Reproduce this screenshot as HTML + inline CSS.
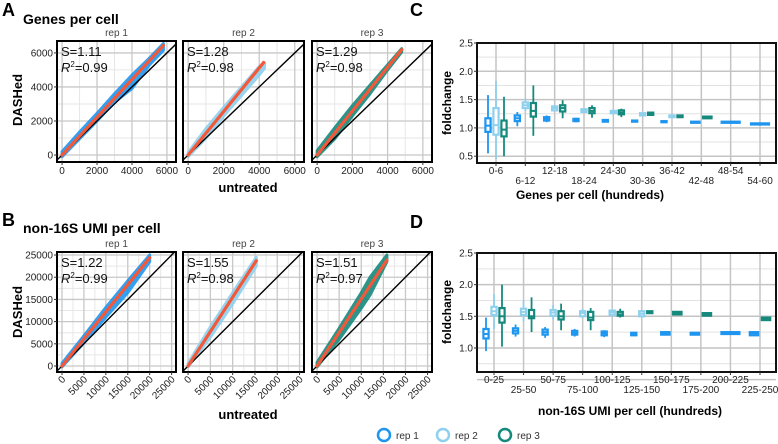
<!DOCTYPE html>
<html><head><meta charset="utf-8">
<style>
html,body{margin:0;padding:0;background:#fff;}
svg{display:block;font-family:"Liberation Sans",Arial,sans-serif;}
</style></head>
<body>
<svg id="fig" width="778" height="444" viewBox="0 0 778 444" xmlns="http://www.w3.org/2000/svg">
  <text x="2" y="16" font-size="18" font-weight="bold">A</text>
  <text x="23" y="24" font-size="14" font-weight="bold">Genes per cell</text>
  <text x="2" y="226" font-size="18" font-weight="bold">B</text>
  <text x="23" y="233" font-size="14" font-weight="bold">non-16S UMI per cell</text>
  <text x="410" y="16" font-size="18" font-weight="bold">C</text>
  <text x="410" y="228" font-size="18" font-weight="bold">D</text>
  <text transform="translate(22,100) rotate(-90)" text-anchor="middle" font-size="13" font-weight="bold">DASHed</text>
  <text transform="translate(22,312) rotate(-90)" text-anchor="middle" font-size="13" font-weight="bold">DASHed</text>
  <text x="248" y="192" text-anchor="middle" font-size="13" font-weight="bold">untreated</text>
  <text x="248" y="419" text-anchor="middle" font-size="13" font-weight="bold">untreated</text>
  <text transform="translate(451,103) rotate(-90)" text-anchor="middle" font-size="12" font-weight="bold">foldchange</text>
  <text transform="translate(451,312) rotate(-90)" text-anchor="middle" font-size="12" font-weight="bold">foldchange</text>
  <text x="590" y="199" text-anchor="middle" font-size="12" font-weight="bold">Genes per cell (hundreds)</text>
  <text x="630" y="415" text-anchor="middle" font-size="12" font-weight="bold">non-16S UMI per cell (hundreds)</text>
  <g>
    <g><circle cx="384" cy="435" r="6" fill="none" stroke="#1e96f0" stroke-width="2.5"/><text x="396" y="439" font-size="10" fill="#333">rep 1</text></g>
    <g><circle cx="443" cy="435" r="6" fill="none" stroke="#8fd0ee" stroke-width="2.5"/><text x="455" y="439" font-size="10" fill="#333">rep 2</text></g>
    <g><circle cx="505" cy="435" r="6" fill="none" stroke="#16897d" stroke-width="2.5"/><text x="517" y="439" font-size="10" fill="#333">rep 3</text></g>
  </g>
</svg>
<script>
// ---------- Scatter data (cloud bands: x, lower y, upper y) ----------
const aRepLabels = ["rep 1","rep 2","rep 3"];
const aSlopes = [1.11, 1.28, 1.29];
const aR2 = ["0.99","0.98","0.98"];
const aFitEnd = [5800, 4250, 4800];
const a1X = [0, 1000, 2000, 3000, 4000, 5000, 5800];
const a1Lo = [-100, 950, 2000, 3100, 3900, 5300, 6150];
const a1Hi = [200, 1350, 2450, 3600, 4700, 5700, 6550];
const a2X = [0, 1000, 2000, 3000, 4000, 4300];
const a2Lo = [-100, 1000, 2300, 3500, 4700, 5100];
const a2Hi = [150, 1550, 2800, 4000, 5200, 5400];
const a3X = [0, 1000, 2000, 3000, 4000, 4800];
const a3Lo = [-100, 950, 2300, 3600, 5000, 6050];
const a3Hi = [250, 1600, 2900, 4100, 5300, 6250];

const bSlopes = [1.22, 1.55, 1.51];
const bR2 = ["0.99","0.98","0.97"];
const bFitEnd = [20000, 15300, 15800];
const b1X = [0, 5000, 10000, 15000, 20000];
const b1Lo = [-200, 5200, 11000, 16500, 23500];
const b1Hi = [600, 6800, 13200, 19200, 25000];
const b2X = [0, 5000, 10000, 15300];
const b2Lo = [-200, 6500, 14000, 22500];
const b2Hi = [600, 8800, 16500, 24500];
const b3X = [0, 5000, 10000, 12000, 15800];
const b3Lo = [-200, 6000, 13000, 16000, 23500];
const b3Hi = [800, 8500, 16500, 20000, 25000];

const aTicks = [0, 2000, 4000, 6000];
const aMinor = [1000, 3000, 5000];
const bTicks = [0, 5000, 10000, 15000, 20000, 25000];
const bMinor = [2500, 7500, 12500, 17500, 22500];

// ---------- Box plot data: [median, q1, q3, lowWhisker, highWhisker] ----------
const cCats = ["0-6","6-12","12-18","18-24","24-30","30-36","36-42","42-48","48-54","54-60"];
const cRep1 = [[1.04,0.93,1.17,0.55,1.58],[1.17,1.12,1.22,1.03,1.28],[1.16,1.13,1.19,1.10,1.22],[1.14,1.12,1.16,1.10,1.18],[1.12,1.11,1.14,1.10,1.15],[1.12,1.11,1.13,1.10,1.14],[1.11,1.10,1.12,1.10,1.12],[1.10,1.09,1.11,1.09,1.11],[1.10,1.09,1.11,1.09,1.11],[1.07,1.06,1.08,1.06,1.08]];
const cRep2 = [[1.05,0.88,1.35,0.45,1.82],[1.40,1.35,1.45,1.30,1.52],[1.35,1.31,1.38,1.29,1.40],[1.30,1.28,1.33,1.27,1.34],[1.28,1.26,1.30,1.25,1.31],[1.24,1.22,1.26,1.22,1.27],[1.20,1.19,1.22,1.19,1.22],null,null,null];
const cRep3 = [[0.97,0.85,1.13,0.50,1.55],[1.30,1.20,1.44,0.86,1.75],[1.35,1.29,1.40,1.17,1.49],[1.30,1.26,1.35,1.18,1.40],[1.27,1.24,1.31,1.19,1.34],[1.25,1.23,1.27,1.23,1.27],[1.21,1.19,1.22,1.19,1.22],[1.19,1.17,1.20,1.17,1.20],null,null];
const dCats = ["0-25","25-50","50-75","75-100","100-125","125-150","150-175","175-200","200-225","225-250"];
const dRep1 = [[1.22,1.15,1.30,0.95,1.48],[1.27,1.23,1.31,1.18,1.37],[1.25,1.21,1.29,1.16,1.33],[1.24,1.21,1.27,1.18,1.30],[1.23,1.20,1.26,1.17,1.28],[1.22,1.20,1.24,1.20,1.25],[1.23,1.21,1.25,1.21,1.25],[1.22,1.21,1.24,1.21,1.24],[1.23,1.22,1.25,1.22,1.25],[1.23,1.20,1.25,1.20,1.25]];
const dRep2 = [[1.58,1.52,1.65,1.30,1.85],[1.57,1.52,1.62,1.42,1.75],[1.56,1.51,1.60,1.45,1.68],[1.55,1.50,1.58,1.48,1.62],[1.56,1.52,1.59,1.52,1.60],[1.54,1.50,1.58,1.50,1.58],null,null,null,null];
const dRep3 = [[1.50,1.40,1.63,1.02,2.00],[1.50,1.47,1.60,1.25,1.80],[1.50,1.45,1.58,1.28,1.70],[1.48,1.44,1.57,1.28,1.63],[1.53,1.51,1.57,1.48,1.62],[1.56,1.55,1.58,1.55,1.58],[1.55,1.53,1.57,1.53,1.57],[1.53,1.51,1.55,1.51,1.55],null,[1.46,1.44,1.48,1.44,1.48]];
const foldTicks = [0.5, 1.0, 1.5, 2.0, 2.5];
const foldMinor = [0.75, 1.25, 1.75, 2.25];

const COLORS = ["#1e96f0", "#8fd0ee", "#16897d"];
const NS = "http://www.w3.org/2000/svg";
const svg = document.getElementById("fig");
function mk(tag, attrs, parent) {
  const e = document.createElementNS(NS, tag);
  for (const k in attrs) e.setAttribute(k, attrs[k]);
  (parent || svg).appendChild(e);
  return e;
}

function scatterPanel(o) {
  const g = mk("g", {});
  
  
  const sx = v => o.x0 + (v - o.xd[0]) / (o.xd[1] - o.xd[0]) * (o.x1 - o.x0);
  const sy = v => o.y1 - (v - o.yd[0]) / (o.yd[1] - o.yd[0]) * (o.y1 - o.y0);
  mk("rect", {x:o.x0, y:o.y0, width:o.x1-o.x0, height:o.y1-o.y0, fill:"#fff"}, g);
  o.minor.forEach(t => {
    mk("line", {x1:sx(t), x2:sx(t), y1:o.y0, y2:o.y1, stroke:"#e6e6e6", "stroke-width":1}, g);
    mk("line", {x1:o.x0, x2:o.x1, y1:sy(t), y2:sy(t), stroke:"#e6e6e6", "stroke-width":1}, g);
  });
  o.ticks.forEach(t => {
    mk("line", {x1:sx(t), x2:sx(t), y1:o.y0, y2:o.y1, stroke:"#c8c8c8", "stroke-width":1.3}, g);
    mk("line", {x1:o.x0, x2:o.x1, y1:sy(t), y2:sy(t), stroke:"#c8c8c8", "stroke-width":1.3}, g);
  });
  let pts = o.cx.map((x,i) => sx(x)+","+sy(o.chi[i]));
  for (let i = o.cx.length-1; i >= 0; i--) pts.push(sx(o.cx[i])+","+sy(o.clo[i]));
  const cl = mk("polygon", {points:pts.join(" "), fill:o.color, stroke:o.color, "stroke-width":3, "stroke-linejoin":"round", opacity:0.9}, g);
  
  
  const lo = Math.max(o.xd[0], o.yd[0]), hi = Math.min(o.xd[1], o.yd[1]);
  const idl = mk("line", {x1:sx(lo), y1:sy(lo), x2:sx(hi), y2:sy(hi), stroke:"#000", "stroke-width":1.4}, g);
  
  
  const fl = mk("line", {x1:sx(0), y1:sy(0), x2:sx(o.fitEnd), y2:sy(o.fitEnd*o.slope), stroke:"#f2593a", "stroke-width":3.2, "stroke-linecap":"round"}, g);
  
  
  mk("rect", {x:o.x0, y:o.y0, width:o.x1-o.x0, height:o.y1-o.y0, fill:"none", stroke:"#000", "stroke-width":2}, g);
  const s = mk("text", {x:o.x0+4, y:o.y0+15, "font-size":13, fill:"#111"}, g);
  s.textContent = "S=" + o.slope.toFixed(2);
  
  
  const r = mk("text", {x:o.x0+4, y:o.y0+31, "font-size":13, fill:"#111"}, g);
  r.innerHTML = '<tspan font-style="italic">R</tspan><tspan font-size="8" dy="-5">2</tspan><tspan dy="5">=' + o.r2 + '</tspan>';
  
  
  const lab = mk("text", {x:(o.x0+o.x1)/2, y:o.y0-5, "text-anchor":"middle", "font-size":10, fill:"#444"}, g);
  lab.textContent = o.label;
  
  
  o.ticks.forEach(t => {
    mk("line", {x1:sx(t), x2:sx(t), y1:o.y1, y2:o.y1+3, stroke:"#333"}, g);
    let tx;
    if (o.rot) {
      tx = mk("text", {transform:"translate("+(sx(t)+4)+","+(o.y1+8)+") rotate(-45)", "text-anchor":"end", "font-size":10, fill:"#222"}, g);
    } else {
      tx = mk("text", {x:sx(t), y:o.y1+12, "text-anchor":"middle", "font-size":10, fill:"#222"}, g);
    }
    tx.textContent = t;
    
    
    if (o.yLabels) {
      mk("line", {x1:o.x0-3, x2:o.x0, y1:sy(t), y2:sy(t), stroke:"#333"}, g);
      const ty = mk("text", {x:o.x0-4, y:sy(t)+3.5, "text-anchor":"end", "font-size":10, fill:"#222"}, g);
      ty.textContent = t;
      
      
    }
  });
}

const panelX = [[57,176],[183,304],[312,432]];
const aClouds = [[a1X,a1Lo,a1Hi],[a2X,a2Lo,a2Hi],[a3X,a3Lo,a3Hi]];
const bClouds = [[b1X,b1Lo,b1Hi],[b2X,b2Lo,b2Hi],[b3X,b3Lo,b3Hi]];
for (let i = 0; i < 3; i++) {
  scatterPanel({name:"a-scatter-rep"+(i+1), x0:panelX[i][0], x1:panelX[i][1], y0:41, y1:162,
    xd:[-290,6520], yd:[-410,6700], ticks:aTicks, minor:aMinor, cx:aClouds[i][0], clo:aClouds[i][1], chi:aClouds[i][2],
    slope:aSlopes[i], r2:aR2[i], fitEnd:aFitEnd[i], color:COLORS[i], label:aRepLabels[i], yLabels:i===0, rot:false});
  scatterPanel({name:"b-scatter-rep"+(i+1), x0:panelX[i][0], x1:panelX[i][1], y0:252, y1:372,
    xd:[-1140,26000], yd:[-1350,25680], ticks:bTicks, minor:bMinor, cx:bClouds[i][0], clo:bClouds[i][1], chi:bClouds[i][2],
    slope:bSlopes[i], r2:bR2[i], fitEnd:bFitEnd[i], color:COLORS[i], label:aRepLabels[i], yLabels:i===0, rot:true});
}

function boxPanel(o) {
  const g = mk("g", {});
  
  
  const n = o.cats.length;
  const step = (o.cLast - o.cFirst) / (n - 1);
  const cx = i => o.cFirst + i * step;
  const sy = v => o.y1 - (v - o.yd[0]) / (o.yd[1] - o.yd[0]) * (o.y1 - o.y0);
  mk("rect", {x:o.x0, y:o.y0, width:o.x1-o.x0, height:o.y1-o.y0, fill:"#fff"}, g);
  foldMinor.forEach(t => mk("line", {x1:o.x0, x2:o.x1, y1:sy(t), y2:sy(t), stroke:"#e2e2e2", "stroke-width":1}, g));
  foldTicks.forEach(t => mk("line", {x1:o.x0, x2:o.x1, y1:sy(t), y2:sy(t), stroke:"#c4c4c4", "stroke-width":1.5}, g));
  for (let i = 0; i < n; i++) mk("line", {x1:cx(i), x2:cx(i), y1:o.y0, y2:o.y1, stroke:"#c4c4c4", "stroke-width":1.5}, g);
  const dodge = 24;
  for (let i = 0; i < n; i++) {
    const present = [];
    o.series.forEach((s, k) => { if (s[i]) present.push(k); });
    const w = dodge / present.length;
    present.forEach((k, j) => {
      const d = o.series[k][i];
      const xc = cx(i) - dodge/2 + w*(j+0.5);
      const bw = Math.min(w - 1.5, 30) * 0.8;
      const bg = mk("g", {}, g);
      
      
      mk("line", {x1:xc, x2:xc, y1:sy(d[3]), y2:sy(d[4]), stroke:COLORS[k], "stroke-width":1.8}, bg);
      mk("rect", {x:xc-bw/2, y:sy(d[2]), width:bw, height:Math.max(sy(d[1])-sy(d[2]),1), fill:"#fff", stroke:COLORS[k], "stroke-width":2.2}, bg);
      mk("line", {x1:xc-bw/2, x2:xc+bw/2, y1:sy(d[0]), y2:sy(d[0]), stroke:COLORS[k], "stroke-width":2}, bg);
    });
  }
  mk("rect", {x:o.x0, y:o.y0, width:o.x1-o.x0, height:o.y1-o.y0, fill:"none", stroke:"#111", "stroke-width":2}, g);
  foldTicks.forEach(t => {
    if (sy(t) < o.y0 - 1 || sy(t) > o.y1) return;
    mk("line", {x1:o.x0-3, x2:o.x0, y1:sy(t), y2:sy(t), stroke:"#333"}, g);
    const ty = mk("text", {x:o.x0-4, y:sy(t)+3.5, "text-anchor":"end", "font-size":10, fill:"#222"}, g);
    ty.textContent = t.toFixed(1);
    
    
  });
  for (let i = 0; i < n; i++) {
    mk("line", {x1:cx(i), x2:cx(i), y1:o.y1, y2:o.y1+3, stroke:"#333"}, g);
    const tx = mk("text", {x:cx(i), y:o.y1 + (i % 2 === 0 ? 11 : 21), "text-anchor":"middle", "font-size":10, fill:"#222"}, g);
    tx.textContent = o.cats[i];
    
    
  }
}

boxPanel({name:"c-boxplot", cats:cCats, series:[cRep1,cRep2,cRep3], x0:477, x1:776, y0:43, y1:163, yd:[0.38,2.5], cFirst:496, cLast:760});
boxPanel({name:"d-boxplot", cats:dCats, series:[dRep1,dRep2,dRep3], x0:477, x1:776, y0:253, y1:372, yd:[0.62,2.5], cFirst:494, cLast:760});
</script>
</body></html>
